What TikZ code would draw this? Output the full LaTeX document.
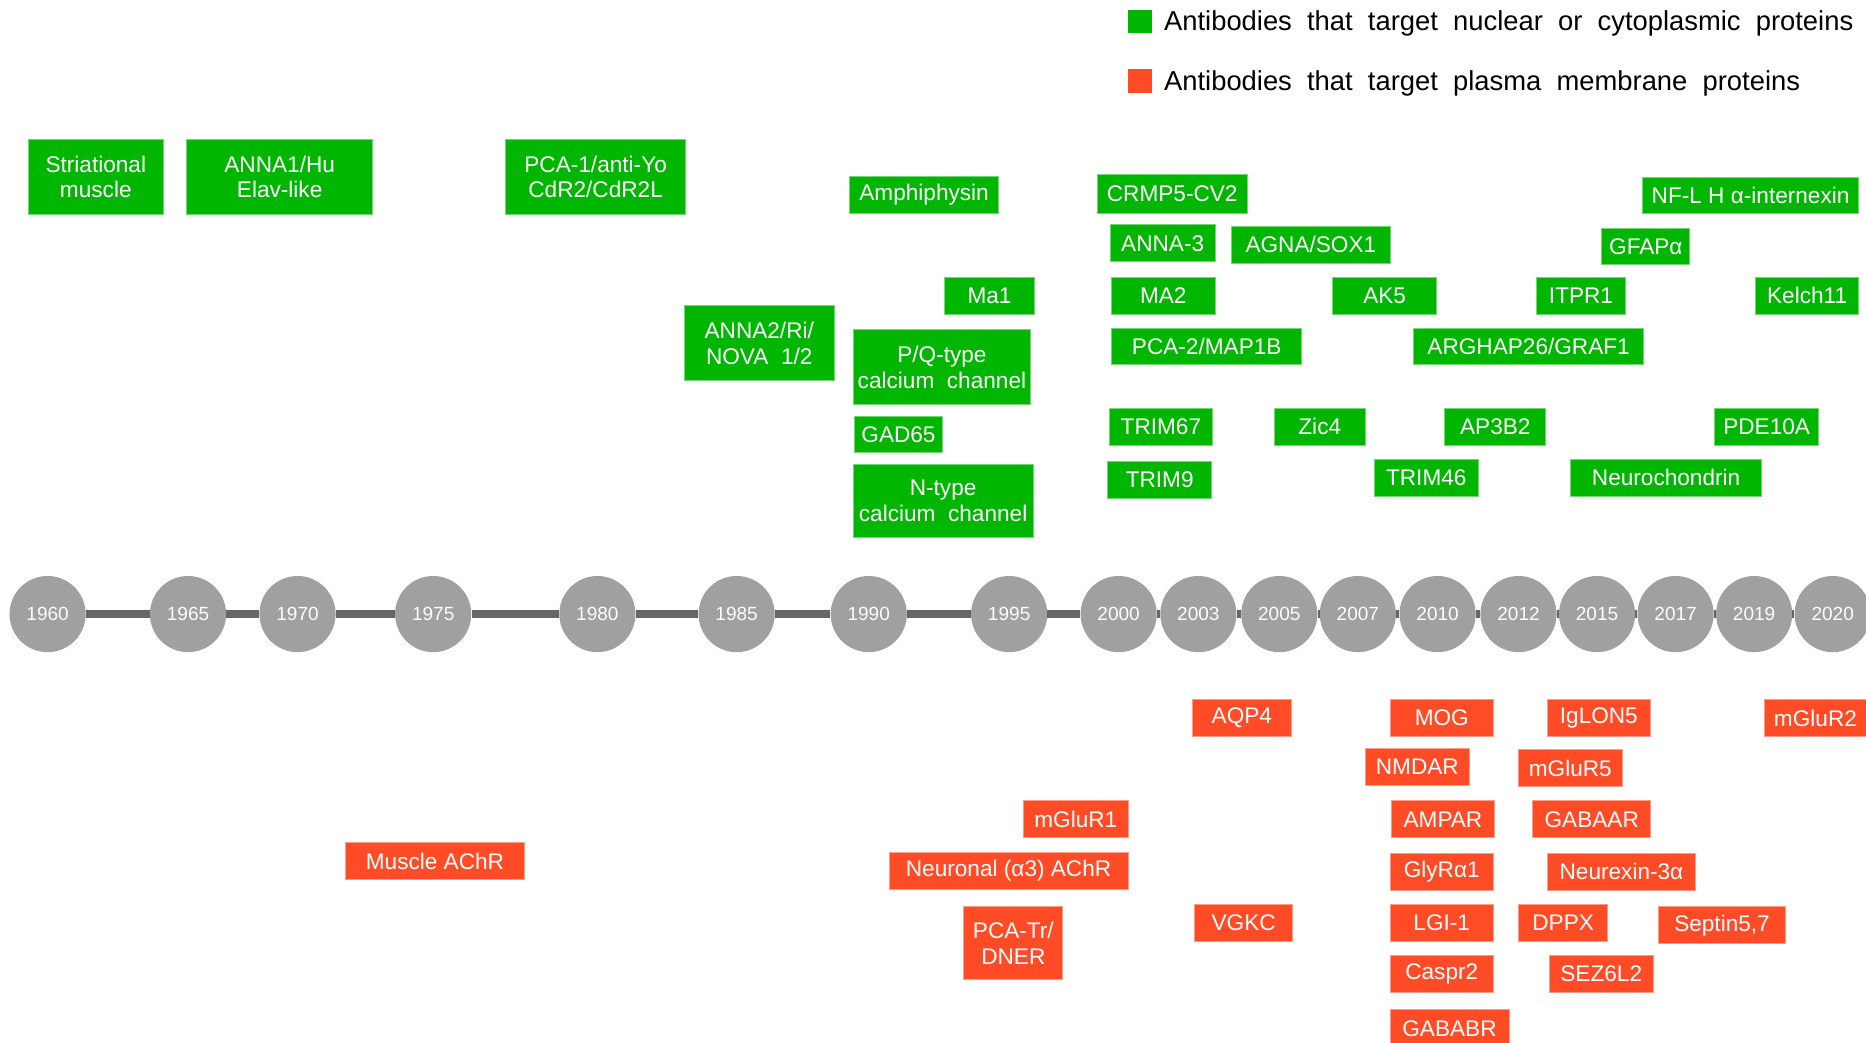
\documentclass[tikz,border=0pt]{standalone}
\usepackage{fontspec}
\setmainfont{Liberation Sans}
\definecolor{abgreen}{RGB}{0,182,0}
\definecolor{abred}{RGB}{255,75,38}
\definecolor{yeargray}{RGB}{160,160,160}
\definecolor{bargray}{RGB}{102,102,102}

\begin{document}
\begin{tikzpicture}[x=1pt, y=-1pt,
box/.style={fill=#1, draw=#1!55!white, line width=0.8pt, text=white, inner sep=0pt, align=center, font=\fontsize{19}{21.5}\selectfont},
gbox/.style={box=abgreen},
rbox/.style={box=abred},
wh/.style 2 args={minimum width=#1pt, minimum height=#2pt},
yearnode/.style={circle, fill=yeargray, minimum size=64pt, inner sep=0pt, text=white, font=\fontsize{16}{18}\selectfont},
timebar/.style={bargray, line width=7pt},
keybox/.style={fill=#1, minimum size=20pt, inner sep=0pt},
keytext/.style={anchor=west, inner sep=0pt, font=\fontsize{23}{26}\selectfont}]

\useasboundingbox (0,0) rectangle (1568,876);

\node[keybox=abgreen] (keyg) at (958,18) {};
\node[keytext] (keygtxt) at (978,20) {Antibodies\ \ that\ \ target\ \ nuclear\ \ or\ \ cytoplasmic\ \ proteins};
\node[keybox=abred] (keyr) at (958,68) {};
\node[keytext] (keyrtxt) at (978,70) {Antibodies\ \ that\ \ target\ \ plasma\ \ membrane\ \ proteins};

\foreach \yr/\x in {1960/40, 1965/158, 1970/250, 1975/364, 1980/502, 1985/619, 1990/730, 1995/848, 2000/940, 2003/1007, 2005/1075, 2007/1141, 2010/1208, 2012/1276, 2015/1342, 2017/1408, 2019/1474, 2020/1540} {
\node[yearnode] (y\yr) at (\x,516) {\yr};
}
\foreach \yr [remember=\yr as \prev (initially 1960)] in {1965, 1970, 1975, 1980, 1985, 1990, 1995, 2000, 2003, 2005, 2007, 2010, 2012, 2015, 2017, 2019, 2020} {
\draw[timebar] (y\prev) -- (y\yr);
}

\node[gbox, wh={113}{63}] (striational) at (80.5,148.5) {Striational\\muscle};
\node[gbox, wh={156}{63}] (anna1) at (235,148.5) {ANNA1/Hu\\Elav-like};
\node[gbox, wh={151}{63}] (pca1) at (500.5,148.5) {PCA-1/anti-Yo\\CdR2/CdR2L};
\node[gbox, wh={125}{31}] (amphiphysin) at (776.5,163.5) {Amphiphysin};
\node[gbox, wh={126}{32}] (crmp5) at (985,163) {CRMP5-CV2};
\node[gbox, wh={182}{30}] (nfl) at (1471,164) {NF-L H α-internexin};
\node[gbox, wh={88}{31}] (anna3) at (977,204.5) {ANNA-3};
\node[gbox, wh={133}{31}] (agna) at (1101.5,205.5) {AGNA/SOX1};
\node[gbox, wh={74}{30}] (gfap) at (1383,207) {GFAPα};
\node[gbox, wh={75}{31}] (ma1) at (831.5,248.5) {Ma1};
\node[gbox, wh={87}{31}] (ma2) at (977.5,248.5) {MA2};
\node[gbox, wh={87}{31}] (ak5) at (1163.5,248.5) {AK5};
\node[gbox, wh={75}{31}] (itpr1) at (1328.5,248.5) {ITPR1};
\node[gbox, wh={87}{31}] (kelch11) at (1518.5,248.5) {Kelch11};
\node[gbox, wh={126}{63}] (anna2) at (638,288.5) {ANNA2/Ri/\\NOVA\ \ 1/2};
\node[gbox, wh={149}{63}] (pqtype) at (791.5,308.5) {P/Q-type\\calcium\ \ channel};
\node[gbox, wh={160}{30}] (pca2) at (1014,291) {PCA-2/MAP1B};
\node[gbox, wh={193}{30}] (arghap26) at (1284.5,291) {ARGHAP26/GRAF1};
\node[gbox, wh={87}{31}] (trim67) at (975.5,358.5) {TRIM67};
\node[gbox, wh={76}{31}] (zic4) at (1109,358.5) {Zic4};
\node[gbox, wh={85}{31}] (ap3b2) at (1256.5,358.5) {AP3B2};
\node[gbox, wh={87}{31}] (pde10a) at (1484.5,358.5) {PDE10A};
\node[gbox, wh={74}{30}] (gad65) at (755,365) {GAD65};
\node[gbox, wh={87}{31}] (trim9) at (974.5,403.5) {TRIM9};
\node[gbox, wh={87}{31}] (trim46) at (1198.5,401.5) {TRIM46};
\node[gbox, wh={160}{31}] (neurochondrin) at (1400,401.5) {Neurochondrin};
\node[gbox, wh={151}{62}] (ntype) at (792.5,421) {N-type\\calcium\ \ channel};

\node[rbox, wh={83}{31}] (aqp4) at (1043.5,603.5) {AQP4};
\node[rbox, wh={87}{31}] (mog) at (1211.5,603.5) {MOG};
\node[rbox, wh={87}{31}] (iglon5) at (1343.5,603.5) {IgLON5};
\node[rbox, wh={85}{31}] (mglur2) at (1525.5,603.5) {mGluR2};
\node[rbox, wh={88}{31}] (nmdar) at (1191,644.5) {NMDAR};
\node[rbox, wh={87}{31}] (mglur5) at (1319.5,645.5) {mGluR5};
\node[rbox, wh={88}{31}] (mglur1) at (904,688.5) {mGluR1};
\node[rbox, wh={87}{31}] (ampar) at (1212.5,688.5) {AMPAR};
\node[rbox, wh={99}{31}] (gabaar) at (1337.5,688.5) {GABAAR};
\node[rbox, wh={151}{31}] (muscleachr) at (365.5,723.5) {Muscle AChR};
\node[rbox, wh={201}{31}] (neuronalachr) at (847.5,731.5) {Neuronal (α3) AChR};
\node[rbox, wh={87}{31}] (glyr) at (1211.5,732.5) {GlyRα1};
\node[rbox, wh={125}{31}] (neurexin) at (1362.5,732.5) {Neurexin-3α};
\node[rbox, wh={83}{61}] (pcatr) at (851.5,792.5) {PCA-Tr/\\DNER};
\node[rbox, wh={82}{31}] (vgkc) at (1045,775.5) {VGKC};
\node[rbox, wh={87}{31}] (lgi1) at (1211.5,775.5) {LGI-1};
\node[rbox, wh={75}{31}] (dppx) at (1313.5,775.5) {DPPX};
\node[rbox, wh={106}{31}] (septin) at (1447,777.5) {Septin5,7};
\node[rbox, wh={87}{31}] (caspr2) at (1211.5,818.5) {Caspr2};
\node[rbox, wh={87}{31}] (sez6l2) at (1345.5,818.5) {SEZ6L2};
\node[rbox, wh={100}{32}] (gababr) at (1218,864) {GABABR};

\end{tikzpicture}
\end{document}
